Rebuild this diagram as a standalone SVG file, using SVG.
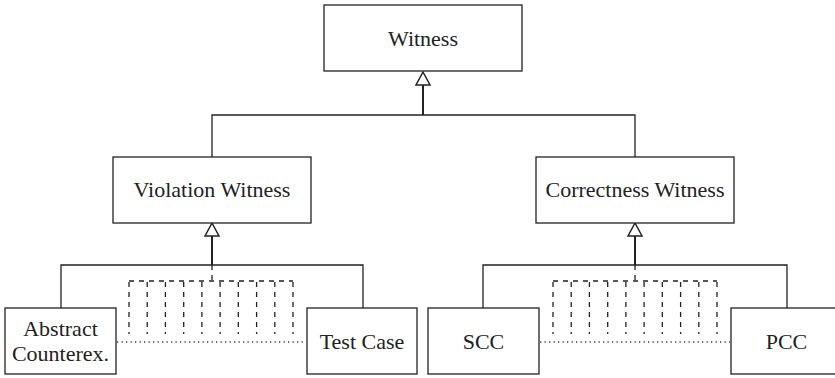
<svg xmlns="http://www.w3.org/2000/svg" width="835" height="378" viewBox="0 0 835 378">
  <style>
    .box { fill: #ffffff; stroke: #222222; stroke-width: 1.3; }
    .lbl { font-family: "Liberation Serif", "DejaVu Serif", serif; font-size: 22px; fill: #222222; text-anchor: middle; }
    .edge { fill: none; stroke: #222222; stroke-width: 1.3; }
    .stem { fill: none; stroke: #222222; stroke-width: 2; }
    .head { fill: #ffffff; stroke: #222222; stroke-width: 1.5; stroke-linejoin: miter; }
    .dash { fill: none; stroke: #222222; stroke-width: 1.3; stroke-dasharray: 5 5; }
    .dot { fill: none; stroke: #444444; stroke-width: 1.3; stroke-dasharray: 1.3 3.2; }
  </style>
  <defs>
    <!-- hollow generalization triangle, apex at origin pointing up -->
    <path id="tri" d="M0,0 L7,13 L-7,13 Z"/>
  </defs>
  <rect width="835" height="378" fill="#ffffff"/>

  <g id="connectors">
    <!-- Witness hierarchy -->
    <line class="stem" x1="423" y1="85" x2="423" y2="115"/>
    <polyline class="edge" points="212,157 212,115 635,115 635,157"/>
    <use href="#tri" class="head" x="423" y="72"/>

    <!-- Violation witness hierarchy -->
    <line class="stem" x1="212" y1="236" x2="212" y2="265"/>
    <polyline class="edge" points="61,308 61,265 363,265 363,308"/>
    <use href="#tri" class="head" x="212" y="223"/>
    <g class="dash">
      <line x1="212" y1="265" x2="212" y2="281"/>
      <line x1="129" y1="281" x2="293" y2="281"/>
      <line x1="129" y1="282" x2="129" y2="334"/>
      <line x1="147.2" y1="282" x2="147.2" y2="334"/>
      <line x1="165.4" y1="282" x2="165.4" y2="334"/>
      <line x1="183.7" y1="282" x2="183.7" y2="334"/>
      <line x1="201.9" y1="282" x2="201.9" y2="334"/>
      <line x1="220.1" y1="282" x2="220.1" y2="334"/>
      <line x1="238.3" y1="282" x2="238.3" y2="334"/>
      <line x1="256.6" y1="282" x2="256.6" y2="334"/>
      <line x1="274.8" y1="282" x2="274.8" y2="334"/>
      <line x1="293" y1="282" x2="293" y2="334"/>
    </g>
    <line class="dot" x1="117" y1="342" x2="306" y2="342"/>

    <!-- Correctness witness hierarchy -->
    <line class="stem" x1="635" y1="236" x2="635" y2="265"/>
    <polyline class="edge" points="483,308 483,265 787,265 787,308"/>
    <use href="#tri" class="head" x="635" y="223"/>
    <g class="dash">
      <line x1="635" y1="265" x2="635" y2="281"/>
      <line x1="553" y1="281" x2="717" y2="281"/>
      <line x1="553" y1="282" x2="553" y2="334"/>
      <line x1="571.2" y1="282" x2="571.2" y2="334"/>
      <line x1="589.4" y1="282" x2="589.4" y2="334"/>
      <line x1="607.7" y1="282" x2="607.7" y2="334"/>
      <line x1="625.9" y1="282" x2="625.9" y2="334"/>
      <line x1="644.1" y1="282" x2="644.1" y2="334"/>
      <line x1="662.3" y1="282" x2="662.3" y2="334"/>
      <line x1="680.6" y1="282" x2="680.6" y2="334"/>
      <line x1="698.8" y1="282" x2="698.8" y2="334"/>
      <line x1="717" y1="282" x2="717" y2="334"/>
    </g>
    <line class="dot" x1="540" y1="342" x2="730" y2="342"/>
  </g>

  <g id="witness">
    <rect class="box" x="324" y="5" width="198" height="66"/>
    <text class="lbl" x="423" y="46">Witness</text>
  </g>
  <g id="violation-witness">
    <rect class="box" x="113" y="157" width="198" height="66"/>
    <text class="lbl" x="212" y="197">Violation Witness</text>
  </g>
  <g id="correctness-witness">
    <rect class="box" x="536" y="157" width="198" height="66"/>
    <text class="lbl" x="635" y="197">Correctness Witness</text>
  </g>
  <g id="abstract-counterexample">
    <rect class="box" x="5" y="308" width="111" height="66"/>
    <text class="lbl" x="60.5" y="336">Abstract</text>
    <text class="lbl" x="60.5" y="361">Counterex.</text>
  </g>
  <g id="test-case">
    <rect class="box" x="307" y="308" width="110" height="66"/>
    <text class="lbl" x="362" y="349">Test Case</text>
  </g>
  <g id="scc">
    <rect class="box" x="428" y="308" width="111" height="66"/>
    <text class="lbl" x="483.5" y="349">SCC</text>
  </g>
  <g id="pcc">
    <rect class="box" x="731" y="308" width="111" height="66"/>
    <text class="lbl" x="786.5" y="349">PCC</text>
  </g>
</svg>
